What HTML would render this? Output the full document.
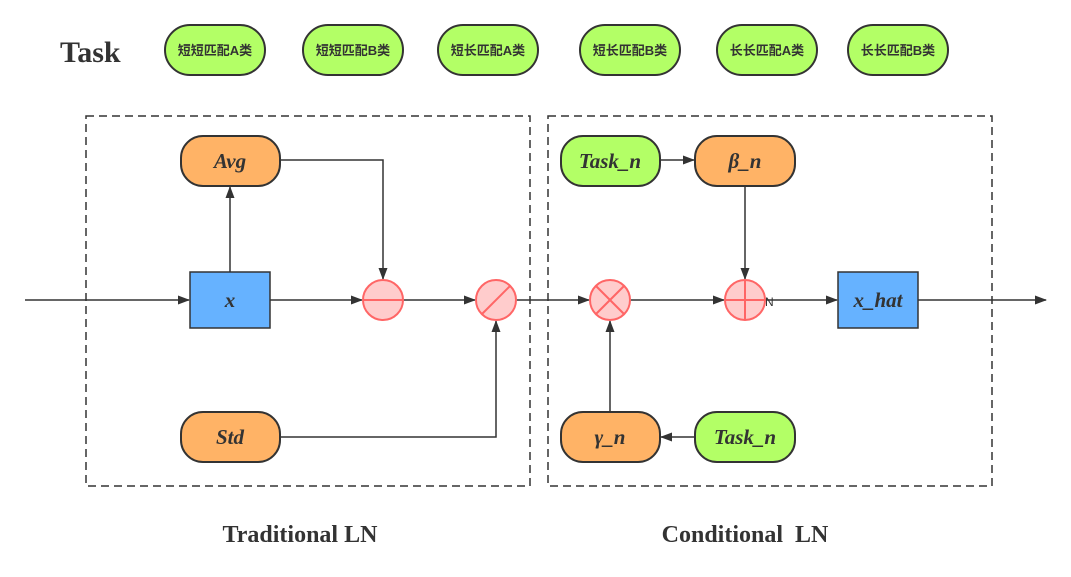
<!DOCTYPE html>
<html><head><meta charset="utf-8"><style>
body{margin:0;background:#fff}
svg{display:block}
.t{font-family:"Liberation Serif",serif;font-weight:bold;font-style:italic;font-size:21px;fill:#333}
.c{font-family:"Liberation Sans","Noto Sans CJK SC",sans-serif;font-weight:bold;font-size:13px;fill:#333}
</style></head><body>
<svg width="1071" height="577" viewBox="0 0 1071 577">
<defs><marker id="a" markerWidth="12" markerHeight="12" refX="11" refY="6" orient="auto" markerUnits="userSpaceOnUse"><path d="M0,1.5 L12,6 L0,10.5 z" fill="#333"/></marker></defs>
<text x="60" y="62" font-family="Liberation Serif,serif" font-weight="bold" font-size="30" fill="#333">Task</text>
<g stroke="#333" stroke-width="2" fill="#b3ff66">
<rect x="165" y="25" width="100" height="50" rx="25"/>
<rect x="303" y="25" width="100" height="50" rx="25"/>
<rect x="438" y="25" width="100" height="50" rx="25"/>
<rect x="580" y="25" width="100" height="50" rx="25"/>
<rect x="717" y="25" width="100" height="50" rx="25"/>
<rect x="848" y="25" width="100" height="50" rx="25"/>
</g>
<g class="c" text-anchor="middle">
<text x="215" y="55">短短匹配A类</text><text x="353" y="55">短短匹配B类</text><text x="488" y="55">短长匹配A类</text>
<text x="630" y="55">短长匹配B类</text><text x="767" y="55">长长匹配A类</text><text x="898" y="55">长长匹配B类</text>
</g>
<g fill="none" stroke="#333" stroke-width="1.5" stroke-dasharray="8,5">
<rect x="86" y="116" width="444" height="370"/><rect x="548" y="116" width="444" height="370"/>
</g>
<g stroke="#333" stroke-width="1.5" fill="none" marker-end="url(#a)">
<line x1="25" y1="300" x2="189" y2="300"/>
<line x1="270" y1="300" x2="362" y2="300"/>
<line x1="403" y1="300" x2="475" y2="300"/>
<line x1="516" y1="300" x2="589" y2="300"/>
<line x1="630" y1="300" x2="724" y2="300"/>
<line x1="765" y1="300" x2="837" y2="300"/>
<line x1="918" y1="300" x2="1046" y2="300"/>
<line x1="230" y1="272" x2="230" y2="187"/>
<polyline points="280,160 383,160 383,279"/>
<polyline points="280,437 496,437 496,321"/>
<line x1="660" y1="160" x2="694" y2="160"/>
<line x1="745" y1="186" x2="745" y2="279"/>
<line x1="610" y1="412" x2="610" y2="321"/>
<line x1="695" y1="437" x2="661" y2="437"/>
</g>
<g stroke="#333" stroke-width="2">
<rect x="181" y="136" width="99" height="50" rx="22" fill="#ffb366"/>
<rect x="181" y="412" width="99" height="50" rx="22" fill="#ffb366"/>
<rect x="695" y="136" width="100" height="50" rx="22" fill="#ffb366"/>
<rect x="561" y="412" width="99" height="50" rx="22" fill="#ffb366"/>
<rect x="561" y="136" width="99" height="50" rx="22" fill="#b3ff66"/>
<rect x="695" y="412" width="100" height="50" rx="22" fill="#b3ff66"/>
</g>
<g stroke="#333" stroke-width="1.5" fill="#66b2ff">
<rect x="190" y="272" width="80" height="56"/><rect x="838" y="272" width="80" height="56"/>
</g>
<g stroke="#ff6666" stroke-width="2" fill="#ffcccc">
<circle cx="383" cy="300" r="20"/><line x1="363" y1="300" x2="403" y2="300"/>
<circle cx="496" cy="300" r="20"/><line x1="482" y1="314" x2="510" y2="286"/>
<circle cx="610" cy="300" r="20"/><line x1="596" y1="286" x2="624" y2="314"/><line x1="596" y1="314" x2="624" y2="286"/>
<circle cx="745" cy="300" r="20"/><line x1="725" y1="300" x2="765" y2="300"/><line x1="745" y1="280" x2="745" y2="320"/>
</g>
<text x="765" y="306" font-family="Liberation Sans,sans-serif" font-size="12" fill="#333">N</text>
<g class="t" text-anchor="middle">
<text x="230" y="168">Avg</text><text x="230" y="444">Std</text><text x="230" y="307">x</text>
<text x="610" y="168">Task_n</text><text x="745" y="168">β_n</text>
<text x="610" y="444">γ_n</text><text x="745" y="444">Task_n</text><text x="878" y="307">x_hat</text>
</g>
<g font-family="Liberation Serif,serif" font-weight="bold" font-size="24" fill="#333" text-anchor="middle">
<text x="300" y="542">Traditional LN</text><text x="745" y="542" xml:space="preserve">Conditional  LN</text>
</g>
</svg>
</body></html>
